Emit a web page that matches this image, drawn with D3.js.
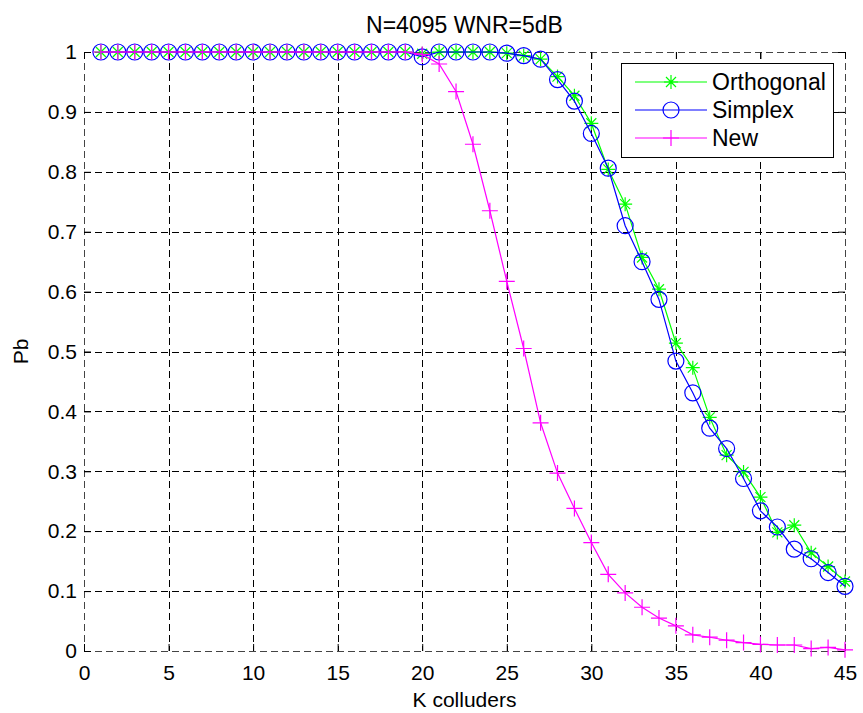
<!DOCTYPE html>
<html>
<head>
<meta charset="utf-8">
<script src="https://cdn.jsdelivr.net/npm/d3@7"></script>
<style>
  body { margin: 0; background: #fff; }
  text { font-family: "Liberation Sans", Arial, sans-serif; fill: #000; }
</style>
</head>
<body>
<div id="chart"></div>
<script>
// K colluders
const kValues = [1, 2, 3, 4, 5, 6, 7, 8, 9, 10, 11, 12, 13, 14, 15, 16, 17, 18, 19, 20,
  21, 22, 23, 24, 25, 26, 27, 28, 29, 30, 31, 32, 33, 34, 35, 36, 37, 38, 39, 40,
  41, 42, 43, 44, 45];

const orthogonal = [1, 1, 1, 1, 1, 1, 1, 1, 1, 1, 1, 1, 1, 1, 1, 1, 1, 1, 1, 0.997,
  1, 1, 1, 1, 0.998, 0.994, 0.988, 0.959, 0.927, 0.881, 0.804, 0.746, 0.657, 0.604, 0.514,
  0.473, 0.390, 0.327, 0.299, 0.257, 0.198, 0.210, 0.164, 0.141, 0.116];

const simplex = [1, 1, 1, 1, 1, 1, 1, 1, 1, 1, 1, 1, 1, 1, 1, 1, 1, 1, 1, 0.992,
  1, 1, 1, 1, 0.998, 0.994, 0.988, 0.954, 0.918, 0.864, 0.806, 0.710, 0.650, 0.587, 0.484,
  0.431, 0.372, 0.338, 0.288, 0.234, 0.207, 0.170, 0.154, 0.131, 0.108];

const newCode = [1, 1, 1, 1, 1, 1, 1, 1, 1, 1, 1, 1, 1, 1, 1, 1, 1, 1, 1, 0.996,
  0.980, 0.934, 0.846, 0.735, 0.617, 0.505, 0.381, 0.297, 0.238, 0.181, 0.128, 0.097, 0.073, 0.055, 0.042,
  0.027, 0.023, 0.018, 0.014, 0.011, 0.010, 0.010, 0.004, 0.006, 0.002];

const xTicks = [0, 5, 10, 15, 20, 25, 30, 35, 40, 45];
const yTicks = [0, 0.1, 0.2, 0.3, 0.4, 0.5, 0.6, 0.7, 0.8, 0.9, 1];

const series = [
  { name: 'Orthogonal', values: orthogonal, color: '#00ff00', marker: 'star' },
  { name: 'Simplex', values: simplex, color: '#0000ff', marker: 'circle' },
  { name: 'New', values: newCode, color: '#ff00ff', marker: 'plus' },
];

const width = 863;
const height = 713;
const margin = { top: 52, right: 18, bottom: 62, left: 84 };

const svg = d3.select('#chart')
  .append('svg')
  .attr('width', width)
  .attr('height', height);

const xScale = d3.scaleLinear()
  .domain([0, 45])
  .range([margin.left, width - margin.right]);

const yScale = d3.scaleLinear()
  .domain([0, 1])
  .range([height - margin.bottom, margin.top]);

const x0 = xScale(0), x1 = xScale(45), y0 = yScale(0), y1 = yScale(1);

// gridlines (dashed, includes the box edges)
const grid = svg.append('g').attr('class', 'grid');
grid.selectAll('line.v')
  .data(xTicks)
  .join('line')
  .attr('class', 'v')
  .attr('x1', d => Math.round(xScale(d)) + 0.5)
  .attr('x2', d => Math.round(xScale(d)) + 0.5)
  .attr('y1', y1)
  .attr('y2', y0)
  .attr('stroke', (d, i) => (i === 0 || i === xTicks.length - 1) ? '#444' : '#000')
  .attr('stroke-dasharray', '7,4');

grid.selectAll('line.h')
  .data(yTicks)
  .join('line')
  .attr('class', 'h')
  .attr('x1', x0)
  .attr('x2', x1)
  .attr('y1', d => Math.round(yScale(d)) + 0.5)
  .attr('y2', d => Math.round(yScale(d)) + 0.5)
  .attr('stroke', (d, i) => (i === 0 || i === yTicks.length - 1) ? '#444' : '#000')
  .attr('stroke-dasharray', '7,4');

// axes: inward ticks on all four sides
const tickLen = 7;
const xAxis = d3.axisBottom(xScale).tickValues(xTicks).tickSize(-tickLen).tickPadding(14).tickSizeOuter(0);
const yAxis = d3.axisLeft(yScale).tickValues(yTicks).tickSize(-tickLen).tickPadding(7).tickSizeOuter(0)
  .tickFormat(d => d === 0 || d === 1 ? d : d3.format('.1f')(d));

const gx = svg.append('g')
  .attr('transform', `translate(0, ${y0})`)
  .call(xAxis);
const gy = svg.append('g')
  .attr('transform', `translate(${x0}, 0)`)
  .call(yAxis);

svg.append('g')
  .attr('transform', `translate(0, ${y1})`)
  .call(d3.axisTop(xScale).tickValues(xTicks).tickSize(-tickLen).tickFormat('').tickSizeOuter(0));
svg.append('g')
  .attr('transform', `translate(${x1}, 0)`)
  .call(d3.axisRight(yScale).tickValues(yTicks).tickSize(-tickLen).tickFormat('').tickSizeOuter(0));

svg.selectAll('.domain').remove();
svg.selectAll('.tick line').attr('stroke', '#000');
gx.selectAll('text').style('font-size', '21px').attr('dy', '0.71em');
gy.selectAll('text').style('font-size', '21px');

// lines + markers
const line = d3.line()
  .x((d, i) => xScale(kValues[i]))
  .y(d => yScale(d));

function drawMarker(g, type, color) {
  if (type === 'circle') {
    g.append('circle').attr('r', 8).attr('fill', 'none').attr('stroke', color).attr('stroke-width', 1.2);
  } else if (type === 'plus') {
    g.append('path').attr('d', 'M-8,0H8M0,-8V8').attr('stroke', color).attr('stroke-width', 1.2);
  } else {
    g.append('path')
      .attr('d', 'M-7,0H7M0,-7V7M-5,-5L5,5M-5,5L5,-5')
      .attr('stroke', color).attr('stroke-width', 1.2);
  }
}

series.forEach(s => {
  svg.append('path')
    .datum(s.values)
    .attr('d', line)
    .attr('fill', 'none')
    .attr('stroke', s.color)
    .attr('stroke-width', 1.2);

  svg.append('g')
    .selectAll('g')
    .data(s.values)
    .join('g')
    .attr('transform', (d, i) => `translate(${xScale(kValues[i])}, ${yScale(d)})`)
    .each(function () { drawMarker(d3.select(this), s.marker, s.color); });
});

// title and axis labels
svg.append('text')
  .attr('x', (x0 + x1) / 2)
  .attr('y', 33)
  .attr('text-anchor', 'middle')
  .style('font-size', '23px')
  .text('N=4095 WNR=5dB');

svg.append('text')
  .attr('x', (x0 + x1) / 2)
  .attr('y', 707)
  .attr('text-anchor', 'middle')
  .style('font-size', '21px')
  .text('K colluders');

svg.append('text')
  .attr('transform', `translate(28, ${(y0 + y1) / 2}) rotate(-90)`)
  .attr('text-anchor', 'middle')
  .style('font-size', '21px')
  .text('Pb');

// legend
const legend = svg.append('g');
legend.append('rect')
  .attr('x', 621.5).attr('y', 63.5)
  .attr('width', 212).attr('height', 94)
  .attr('fill', '#fff')
  .attr('stroke', '#000');

series.forEach((s, i) => {
  const ly = 82 + i * 28;
  legend.append('line')
    .attr('x1', 635).attr('x2', 707)
    .attr('y1', ly).attr('y2', ly)
    .attr('stroke', s.color)
    .attr('stroke-width', 1.2);
  drawMarker(legend.append('g').attr('transform', `translate(671, ${ly})`), s.marker, s.color);
  legend.append('text')
    .attr('x', 712)
    .attr('y', ly + 8)
    .style('font-size', '23px')
    .text(s.name);
});
</script>
</body>
</html>
